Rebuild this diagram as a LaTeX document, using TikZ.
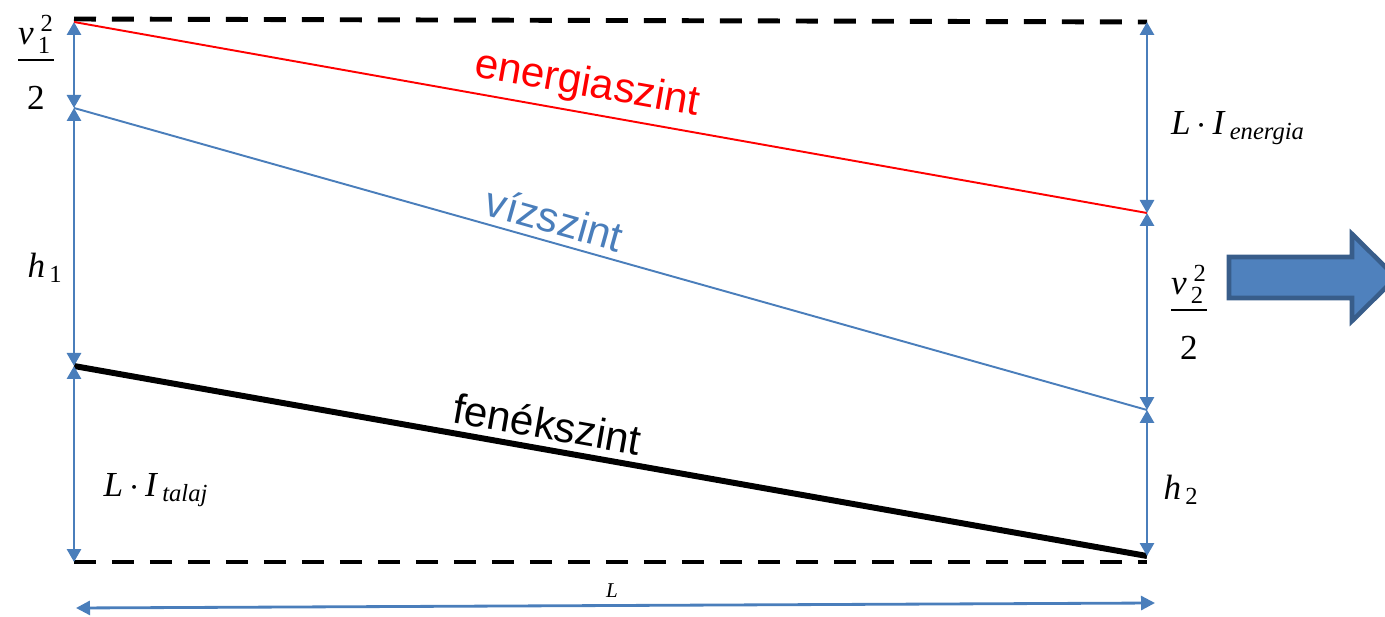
\documentclass[tikz,border=0pt]{standalone}
\usepackage{amsmath}
\usepackage{fontspec}
\setmainfont{Liberation Serif}
\setsansfont{Liberation Sans}
\usetikzlibrary{arrows.meta,calc,positioning}
\definecolor{DimBlue}{HTML}{4A7EBB}
\definecolor{FlowFill}{HTML}{4F81BD}
\definecolor{FlowEdge}{HTML}{385D8A}
\tikzset{
  refline/.style={draw=black, line width=2.8pt, dash pattern=on 0.44cm off 0.32cm},
  enline/.style={draw=red, line width=1.1pt},
  wsline/.style={draw=DimBlue, line width=1.1pt},
  bedline/.style={draw=black, line width=3.4pt},
  dimarrow/.style={{Triangle[length=2.6mm,width=2.8mm]}-{Triangle[length=2.6mm,width=2.8mm]}, draw=DimBlue, fill=DimBlue, line width=1.6pt},
  lenarrow/.style={{Triangle[length=2.8mm,width=2.8mm]}-{Triangle[length=2.8mm,width=2.8mm]}, draw=DimBlue, fill=DimBlue, line width=1.6pt},
  lvllabel/.style={font=\sffamily\fontsize{24}{28}\selectfont, inner sep=1pt, sloped, above=3pt},
  mathlbl/.style={font=\fontsize{20}{24}\selectfont, inner sep=1pt},
  flowarrow/.style={draw=FlowEdge, fill=FlowFill, line width=2.6pt, line join=miter}
}
\newcommand{\halfsq}[1]{\dfrac{\textit{v}_{\,\text{#1}}^{\;\text{2}}\rule[-0.1em]{0pt}{0pt}}{\rule{0pt}{1.25em}\text{2}}}

\begin{document}
\begin{tikzpicture}[x=0.02cm, y=-0.02cm]
  \useasboundingbox (0,0) rectangle (1385,617);
  % end points of the levels
  \coordinate (topL) at (74,19);
  \coordinate (topR) at (1147,22);
  \coordinate (enL) at (74,22);
  \coordinate (enR) at (1147,213);
  \coordinate (wsL) at (74,108);
  \coordinate (wsR) at (1147,410);
  \coordinate (bedL) at (74,366);
  \coordinate (bedR) at (1147,556);
  \coordinate (botL) at (74,562);
  \coordinate (botR) at (1147,562);
  \coordinate (lenL) at (76,608);
  \coordinate (lenR) at (1155,603);

  % reference levels
  \draw[refline] (topL) -- (topR);
  \draw[refline] (botL) -- (botR);

  % levels with their labels
  \draw[enline] (enL) -- node[lvllabel, pos=0.474, text=red] (enlabel) {energiaszint} (enR);
  \draw[wsline] (wsL) -- node[lvllabel, pos=0.442, text=DimBlue] (wslabel) {vízszint} (wsR);
  \draw[bedline] (bedL) -- node[lvllabel, pos=0.437] (bedlabel) {fenékszint} (bedR);

  % heights on the left
  \draw[dimarrow] (enL) -- (wsL);
  \draw[dimarrow] (wsL) -- (bedL);
  \draw[dimarrow] (bedL) -- (botL);
  \node[mathlbl] (vone) at (36,62) {$\halfsq{1}$};
  \node[mathlbl] (hone) at (45,268) {\textit{h}$_{\,\text{1}}$};
  \node[mathlbl] (ltalaj) at (156,490) {\textit{L}\,$\cdot$\,\textit{I}$_{\,\textit{talaj}}$};

  % heights on the right
  \draw[dimarrow] (topR) -- (enR);
  \draw[dimarrow] (enR) -- (wsR);
  \draw[dimarrow] (wsR) -- (bedR);
  \node[mathlbl] (lenergia) at (1238,128) {\textit{L}\,$\cdot$\,\textit{I}$_{\,\textit{energia}}$};
  \node[mathlbl] (vtwo) at (1189,312) {$\halfsq{2}$};
  \node[mathlbl] (htwo) at (1181,490) {\textit{h}$_{\,\text{2}}$};

  % length of the reach
  \draw[lenarrow] (lenL) -- (lenR);
  \node[font=\fontsize{12}{14}\selectfont, inner sep=1pt] (lenlabel) at (612,591) {\textit{L}};

  % flow direction
  \begin{scope}
    \clip (0,0) rectangle (1385,617);
    \draw[flowarrow] (1229,257) -- (1352,257) -- (1352,234) -- (1396,277.5)
      -- (1352,321) -- (1352,298) -- (1229,298) -- cycle;
  \end{scope}
\end{tikzpicture}
\end{document}
